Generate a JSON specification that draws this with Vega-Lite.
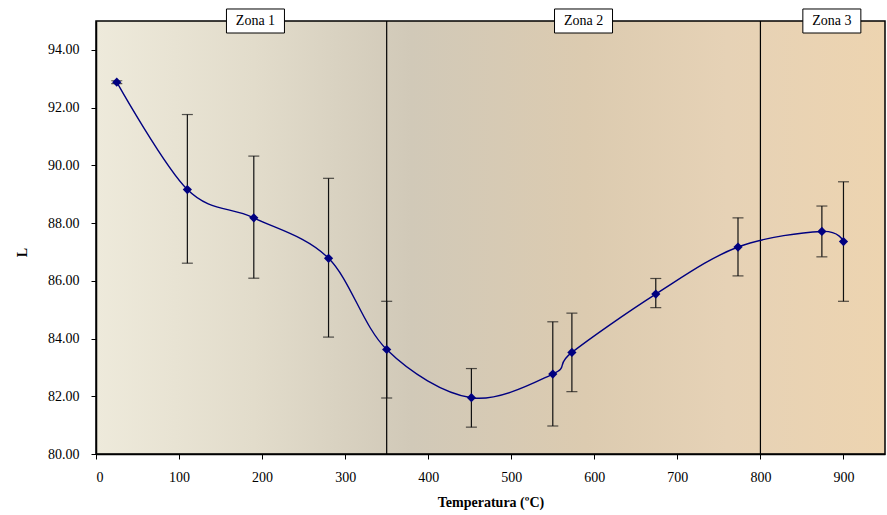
{
  "$schema": "https://vega.github.io/schema/vega-lite/v6.json",
  "autosize": "none",
  "width": 789,
  "height": 433,
  "padding": {"left": 96, "top": 21, "right": 2, "bottom": 61},
  "background": "white",
  "datasets": {
    "pts": [
      {"T": 25, "L": 92.88, "lo": 92.83, "hi": 92.93},
      {"T": 110, "L": 89.16, "lo": 86.61, "hi": 91.76},
      {"T": 190, "L": 88.18, "lo": 86.09, "hi": 90.32},
      {"T": 280, "L": 86.78, "lo": 84.05, "hi": 89.55},
      {"T": 350, "L": 83.62, "lo": 81.94, "hi": 85.29},
      {"T": 452, "L": 81.95, "lo": 80.93, "hi": 82.96},
      {"T": 550, "L": 82.77, "lo": 80.97, "hi": 84.58},
      {"T": 573, "L": 83.52, "lo": 82.16, "hi": 84.88},
      {"T": 674, "L": 85.54, "lo": 85.07, "hi": 86.08},
      {"T": 773, "L": 87.17, "lo": 86.17, "hi": 88.18},
      {"T": 874, "L": 87.71, "lo": 86.83, "hi": 88.59},
      {"T": 900, "L": 87.36, "lo": 85.29, "hi": 89.43}
    ],
    "zones": [{"T": 350}, {"T": 800}],
    "labels": [
      {"T": 192, "L": 95, "label": "Zona 1"},
      {"T": 587, "L": 95, "label": "Zona 2"},
      {"T": 886, "L": 95, "label": "Zona 3"}
    ]
  },
  "config": {
    "font": "Liberation Serif",
    "view": {
      "stroke": "#000",
      "strokeWidth": 1.5,
      "fill": {
        "gradient": "linear",
        "x1": 0, "y1": 0, "x2": 1, "y2": 0,
        "stops": [
          {"offset": 0, "color": "#EEEADB"},
          {"offset": 0.2, "color": "#E2DCCB"},
          {"offset": 0.4, "color": "#D1C9B8"},
          {"offset": 0.62, "color": "#DCCBB0"},
          {"offset": 0.8, "color": "#E6D2B6"},
          {"offset": 1, "color": "#EDD4B0"}
        ]
      }
    },
    "axis": {
      "grid": false,
      "domainColor": "#000",
      "domainWidth": 1.5,
      "tickColor": "#000",
      "tickSize": 5,
      "labelFont": "Liberation Serif",
      "labelFontSize": 14,
      "labelColor": "#000",
      "titleFont": "Liberation Serif",
      "titleFontSize": 14,
      "titleFontWeight": "bold",
      "titleColor": "#000"
    }
  },
  "layer": [
    {
      "data": {"name": "zones"},
      "mark": {"type": "rule", "color": "#000", "strokeWidth": 1.2},
      "encoding": {
        "x": {"field": "T", "type": "quantitative"}
      }
    },
    {
      "data": {"name": "pts"},
      "mark": {"type": "rule", "color": "#111", "strokeWidth": 1.2},
      "encoding": {
        "x": {"field": "T", "type": "quantitative"},
        "y": {"field": "lo", "type": "quantitative"},
        "y2": {"field": "hi"}
      }
    },
    {
      "data": {"name": "pts"},
      "mark": {"type": "tick", "orient": "horizontal", "color": "#111", "size": 11, "thickness": 1.2},
      "encoding": {
        "x": {"field": "T", "type": "quantitative"},
        "y": {"field": "lo", "type": "quantitative"}
      }
    },
    {
      "data": {"name": "pts"},
      "mark": {"type": "tick", "orient": "horizontal", "color": "#111", "size": 11, "thickness": 1.2},
      "encoding": {
        "x": {"field": "T", "type": "quantitative"},
        "y": {"field": "hi", "type": "quantitative"}
      }
    },
    {
      "data": {"name": "pts"},
      "mark": {"type": "line", "color": "#000080", "strokeWidth": 1.4, "interpolate": "cardinal"},
      "encoding": {
        "x": {
          "field": "T", "type": "quantitative",
          "scale": {"domain": [0, 950], "nice": false},
          "axis": {"values": [0, 100, 200, 300, 400, 500, 600, 700, 800, 900], "labelPadding": 11, "titlePadding": 11},
          "title": "Temperatura (ºC)"
        },
        "y": {
          "field": "L", "type": "quantitative",
          "scale": {"domain": [80, 95], "nice": false, "zero": false},
          "axis": {"values": [80, 82, 84, 86, 88, 90, 92, 94], "format": ".2f", "labelPadding": 12, "titleX": -74, "titleY": 231, "titleAlign": "center", "titleBaseline": "middle", "titleAngle": 270},
          "title": "L"
        }
      }
    },
    {
      "data": {"name": "pts"},
      "mark": {"type": "point", "shape": "diamond", "filled": true, "color": "#000080", "size": 85, "opacity": 1},
      "encoding": {
        "x": {"field": "T", "type": "quantitative"},
        "y": {"field": "L", "type": "quantitative"}
      }
    },
    {
      "data": {"name": "labels"},
      "mark": {"type": "point", "shape": "M-1,-0.414L1,-0.414L1,0.414L-1,0.414Z", "filled": true, "fill": "white", "stroke": "#000", "strokeWidth": 1, "size": 3364, "opacity": 1, "clip": false},
      "encoding": {
        "x": {"field": "T", "type": "quantitative"},
        "y": {"field": "L", "type": "quantitative"}
      }
    },
    {
      "data": {"name": "labels"},
      "mark": {"type": "text", "font": "Liberation Serif", "fontSize": 14, "color": "#000", "align": "center", "baseline": "middle", "clip": false},
      "encoding": {
        "x": {"field": "T", "type": "quantitative"},
        "y": {"field": "L", "type": "quantitative"},
        "text": {"field": "label"}
      }
    }
  ]
}
